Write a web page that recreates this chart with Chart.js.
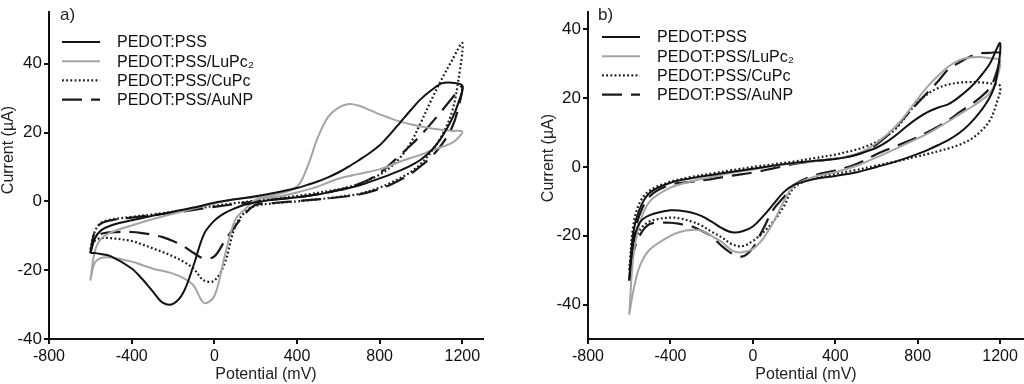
<!DOCTYPE html>
<html>
<head>
<meta charset="utf-8">
<script src="https://cdn.jsdelivr.net/npm/chart.js@4.4.1/dist/chart.umd.min.js"></script>
<style>
  body { margin: 0; width: 1024px; height: 384px; background: #fff; position: relative; overflow: hidden; }
  .panel { position: absolute; top: 0; height: 384px; }
</style>
</head>
<body>
<div class="panel" style="left:0;width:490px"><canvas id="cv-a"></canvas></div>
<div class="panel" style="left:540px;width:484px"><canvas id="cv-b"></canvas></div>
<script>
// Sweep potentials (mV): forward scan then reverse scan
const fwdGrid = [-600,-580,-550,-500,-400,-300,-200,-100,0,100,200,300,400,450,500,550,600,650,700,750,800,850,900,950,1000,1050,1100,1150,1200];
const revGrid = [1200,1180,1150,1100,1050,1000,950,900,850,800,700,600,500,400,300,200,150,100,50,0,-50,-100,-150,-200,-250,-300,-350,-400,-500,-550,-580,-600];

const seriesNames = ['PEDOT:PSS', 'PEDOT:PSS/LuPc\u2082', 'PEDOT:PSS/CuPc', 'PEDOT:PSS/AuNP'];
const xTickValues = [-800, -400, 0, 400, 800, 1200];
const yTicksA = [-40, -20, 0, 20, 40];
const yTicksB = [-40, -20, 0, 20, 40];

// Panel a) currents (uA)
const aPssFwd = [-15,-11,-8.5,-7,-5.5,-4.2,-3,-1.8,-0.4,0.6,1.5,2.6,3.9,4.8,5.8,7,8.4,10.1,12,14,16.3,19.5,23,26.5,29.8,32.3,34.3,34.5,33.6];
const aPssRev = [33.6,28.5,24,18.6,14.8,12.2,10.4,9,7.8,6.7,4.6,3.2,2,1.2,0.6,-0.3,-0.9,-2,-3.4,-5.6,-9.5,-18.5,-26.5,-29.8,-29.4,-26,-22.5,-19.5,-16,-15.3,-15,-15];
const aLuFwd = [-23,-15,-11,-9,-7,-5.2,-3.6,-2.1,-0.6,0.6,1.2,2,4.3,10,18.5,24.5,27.2,28.3,27.8,26.6,25.3,24.2,23.2,22.4,21.8,21.2,20.8,20.5,20.3];
const aLuRev = [20.3,18.5,17,15.8,14.8,13.6,12.6,11.6,10.4,9.3,8,6.6,4.3,2.6,1.3,0.4,-2.2,-5.5,-16,-27.5,-29.5,-24.5,-22.3,-21,-20.2,-19.5,-18.5,-17.5,-16.3,-16.5,-18,-23];
const aCuFwd = [-14,-9,-6.3,-5.3,-4.5,-3.8,-3,-2.2,-1.3,-0.5,0.2,0.9,1.6,2,2.5,3,3.5,4.2,5,6.3,7.8,9.8,12.8,17,23,29.5,35.5,41,46];
const aCuRev = [46,35,26,19,14.5,11,8.5,6.8,5.3,4,2.2,1.3,0.6,0,-0.5,-1.3,-3,-7.5,-18,-23,-23,-19.6,-17.5,-16,-14.7,-13.6,-12.5,-11.5,-10.7,-10.7,-11.5,-14];
const aAuFwd = [-15,-9,-6.5,-5.5,-4.7,-4,-3.3,-2.5,-1.6,-0.8,0,0.6,1.2,1.6,2.1,2.6,3.3,4.1,5.1,6.4,8.2,10.8,13.5,16.3,19.3,22.7,26.3,30,33.5];
const aAuRev = [33.5,27,21.5,16.5,13,10.3,8,6.3,4.8,3.6,2,1.2,0.6,0.1,-0.4,-1,-3.5,-7.3,-11.5,-16,-16.6,-15,-13,-11.5,-10.4,-9.7,-9.2,-8.9,-9,-9.5,-11,-15];

// Panel b) currents (uA)
const bPssFwd = [-33,-19,-12.3,-7.5,-4.6,-3.3,-2.3,-1.4,-0.5,0.4,1.2,1.8,2.3,2.8,3.5,4.5,5.6,7.3,9.5,12,14.2,16,17.3,18.3,20.3,22.8,26,30,36];
const bPssRev = [36,25,20.3,15.8,12.4,9.8,7.9,6.4,5,3.8,1.7,0,-1.6,-2.6,-3.5,-5.2,-7.3,-10.8,-14.3,-17.3,-18.7,-19,-17.8,-15.9,-14.2,-13.2,-12.7,-12.6,-14,-16.3,-22,-33];
const bLuFwd = [-43,-26,-16.5,-10,-6,-4.2,-2.9,-1.7,-0.7,0.3,1.1,1.7,2.4,2.9,3.7,5,7,9.4,12.2,15.8,19.8,23.5,26.6,29.2,31,31.8,32,31.6,31];
const bLuRev = [31,25,21.5,19,17,15.2,13.3,11.5,9.8,8.3,5.5,2.8,0.3,-1.5,-2.8,-5.5,-10,-16,-20.8,-23.8,-24.8,-24.3,-21.8,-20,-18.5,-18.3,-18.8,-20,-24,-29,-36,-43];
const bCuFwd = [-30,-17,-10.5,-6.8,-4.3,-2.9,-1.9,-0.9,0,0.8,1.6,2.6,3.6,4.3,5,6,7.3,9,11.5,15.3,18.8,21.3,23,24,24.5,24.7,24.6,24.3,23.5];
const bCuRev = [23.5,18,13.5,10,7.8,6.4,5.4,4.6,3.8,3.1,1.7,0.4,-0.9,-2,-3.1,-6,-11.5,-15.8,-19,-21.5,-23,-22.5,-20.5,-18.8,-17,-15.8,-15,-14.7,-15.8,-18.5,-23,-30];
const bAuFwd = [-33,-21,-14,-8.5,-5.2,-4.3,-3.5,-2.5,-1.6,-0.4,0.9,1.7,2.4,2.9,3.6,4.8,6.5,9,12,15.3,18.6,21.8,25,28.5,30.3,32,33,33.2,33];
const bAuRev = [33,27,23,20,17.8,15.8,13.6,11.8,10.2,8.7,6.2,3.7,0.8,-1,-2.4,-5.2,-8.8,-12.3,-18,-23.5,-26,-25.2,-23,-20.2,-18.5,-17.2,-16.6,-16.2,-16.6,-20,-25,-33];

const FONT = '"Liberation Sans", Arial, Helvetica, sans-serif';

const lineStyles = [
  { borderColor: '#111111', borderWidth: 2, borderDash: [] },
  { borderColor: '#a4a4a4', borderWidth: 2, borderDash: [] },
  { borderColor: '#1a1a1a', borderWidth: 2.2, borderDash: [1.8, 2.4] },
  { borderColor: '#1a1a1a', borderWidth: 2.2, borderDash: [20, 9] }
];

function loop(fwd, rev) {
  const pts = fwdGrid.map((x, i) => ({ x: x, y: fwd[i] }));
  revGrid.forEach((x, i) => { if (i > 0) pts.push({ x: x, y: rev[i] }); });
  return pts;
}

function makeDatasets(pairs) {
  return pairs.map((p, i) => ({
    label: seriesNames[i],
    data: loop(p[0], p[1]),
    showLine: true,
    fill: false,
    pointRadius: 0,
    tension: 0.35,
    ...lineStyles[i]
  }));
}

// legend + panel tag + y title drawn by hand so they sit where the original has them
const cvLegend = {
  id: 'cvLegend',
  afterDraw(chart, args, opts) {
    const ctx = chart.ctx;
    ctx.save();
    ctx.textBaseline = 'middle';
    ctx.fillStyle = '#222';
    ctx.font = '17px ' + FONT;
    ctx.fillText(opts.tag, opts.tagX, 15);
    ctx.font = '16px ' + FONT;
    chart.data.datasets.forEach((ds, i) => {
      const y = opts.top + i * opts.step;
      ctx.beginPath();
      ctx.setLineDash(ds.borderDash || []);
      ctx.strokeStyle = ds.borderColor;
      ctx.lineWidth = ds.borderWidth;
      ctx.moveTo(62, y);
      ctx.lineTo(100, y);
      ctx.stroke();
      ctx.setLineDash([]);
      ctx.fillStyle = '#111';
      ctx.fillText(ds.label, 117, y + 1);
    });
    // y axis title
    ctx.translate(opts.yTitleX, opts.yTitleY);
    ctx.rotate(-Math.PI / 2);
    ctx.textAlign = 'center';
    ctx.fillStyle = '#222';
    ctx.fillText('Current (\u00b5A)', 0, 0);
    ctx.restore();
  }
};

function makeScales(xMax, yMin, yMax, yTicks, yWidth) {
  const axisLine = { display: true, color: '#111', width: 2 };
  const tickMarks = { drawOnChartArea: false, drawTicks: true, tickLength: 5, color: '#111', lineWidth: 2 };
  return {
    x: {
      type: 'linear', min: -800, max: xMax,
      afterBuildTicks: ax => { ax.ticks = xTickValues.map(v => ({ value: v })); },
      afterFit: ax => { ax.height = 45; },
      border: axisLine, grid: tickMarks,
      ticks: { color: '#111', font: { size: 16, family: FONT }, padding: 3, maxRotation: 0, autoSkip: false, callback: v => String(v) },
      title: { display: true, text: 'Potential (mV)', color: '#222', font: { size: 16, family: FONT }, padding: 0 }
    },
    y: {
      type: 'linear', min: yMin, max: yMax,
      afterBuildTicks: ax => { ax.ticks = yTicks.map(v => ({ value: v })); },
      afterFit: ax => { ax.width = yWidth; },
      border: axisLine, grid: tickMarks,
      ticks: { color: '#111', font: { size: 17, family: FONT }, padding: 2, autoSkip: false, callback: v => String(v) },
      title: { display: false }
    }
  };
}

function makeChart(id, datasets, scales, padding, legendOpts) {
  return new Chart(document.getElementById(id), {
    type: 'scatter',
    data: { datasets: datasets },
    options: {
      responsive: true,
      maintainAspectRatio: false,
      animation: false,
      layout: { padding: padding },
      plugins: { legend: { display: false }, tooltip: { enabled: false }, cvLegend: legendOpts },
      scales: scales
    },
    plugins: [cvLegend]
  });
}

makeChart('cv-a',
  makeDatasets([[aPssFwd, aPssRev], [aLuFwd, aLuRev], [aCuFwd, aCuRev], [aAuFwd, aAuRev]]),
  makeScales(1300, -40, 55, yTicksA, 49),
  { top: 1, right: 7, left: 0, bottom: 0 },
  { tag: 'a)', tagX: 60, top: 42, step: 19.2, yTitleX: 9, yTitleY: 150 });

makeChart('cv-b',
  makeDatasets([[bPssFwd, bPssRev], [bLuFwd, bLuRev], [bCuFwd, bCuRev], [bAuFwd, bAuRev]]),
  makeScales(1316, -50, 45, yTicksB, 48),
  { top: 0, right: 0, left: 0, bottom: 0 },
  { tag: 'b)', tagX: 58, top: 37, step: 19.2, yTitleX: 9, yTitleY: 158 });
</script>
</body>
</html>
